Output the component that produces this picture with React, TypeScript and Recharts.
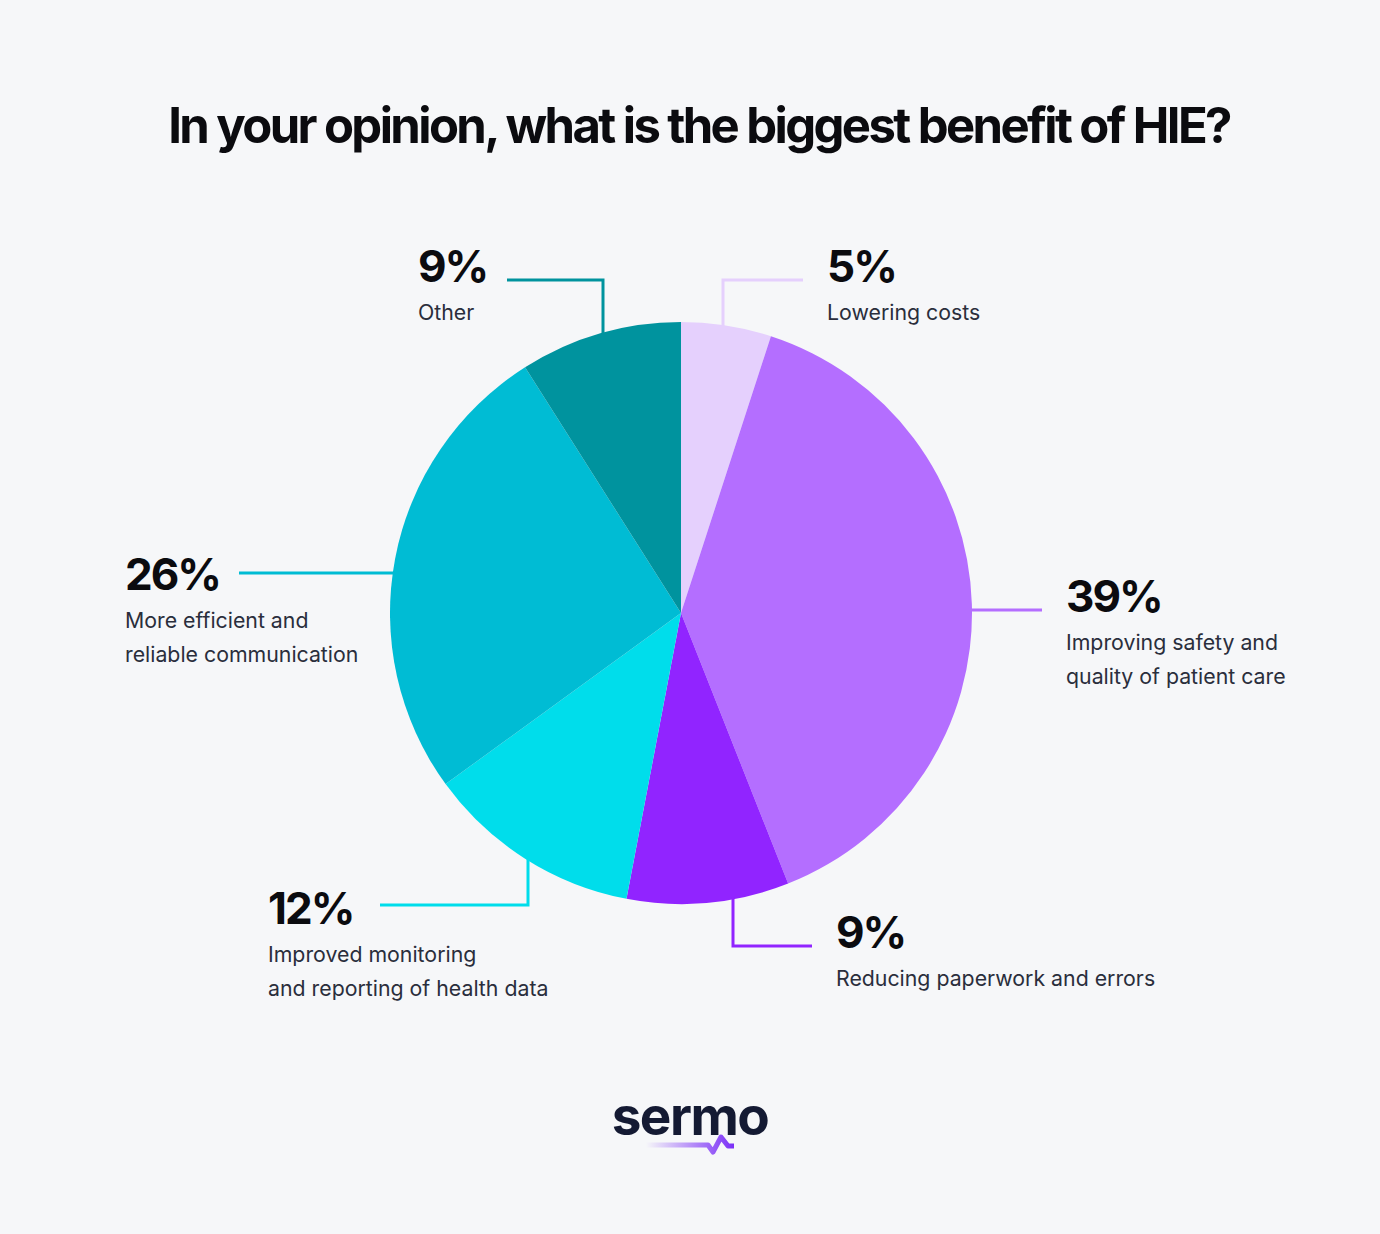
import { PieChart, Pie, Cell } from 'recharts'

const answers = [
  'Lowering costs',
  'Improving safety and quality of patient care',
  'Reducing paperwork and errors',
  'Improved monitoring and reporting of health data',
  'More efficient and reliable communication',
  'Other',
]
const shares = [5, 39, 9, 12, 26, 9]
const captions = [
  ['Lowering costs'],
  ['Improving safety and', 'quality of patient care'],
  ['Reducing paperwork and errors'],
  ['Improved monitoring', 'and reporting of health data'],
  ['More efficient and', 'reliable communication'],
  ['Other'],
]
const colors = ['#E5D0FD', '#B46EFF', '#9124FF', '#00DDEB', '#00BCD4', '#00939E']

const data = answers.map((name, i) => ({ name, value: shares[i] }))

// leader + text placement, relative to the pie centre
// v = vertical leg from the rim, then a horizontal leg; h = straight horizontal leg
const LAYOUT = [
  { kind: 'v', d: 42, dir: -1, elbow: -333, end: 122, tx: 146, ty: -331 },
  { kind: 'h', d: -3, dir: 1, end: 361, tx: 385, ty: -1 },
  { kind: 'v', d: 52, dir: 1, elbow: 333, end: 131, tx: 155, ty: 335 },
  { kind: 'v', d: -153, dir: 1, elbow: 292, end: -301, tx: -413, ty: 311 },
  { kind: 'h', d: -40, dir: -1, end: -442, tx: -556, ty: -23 },
  { kind: 'v', d: -78, dir: -1, elbow: -333, end: -174, tx: -263, ty: -331 },
]

const FONT = 'Inter, "Noto Sans", sans-serif'

function renderLabel(props: any) {
  const { cx, cy, outerRadius: r, index } = props
  const L: any = LAYOUT[index]
  const color = colors[index]
  let pts: number[][]
  if (L.kind === 'v') {
    const ay = cy + L.dir * (Math.sqrt(r * r - L.d * L.d) - 2)
    pts = [[cx + L.d, ay], [cx + L.d, cy + L.elbow], [cx + L.end, cy + L.elbow]]
  } else {
    const ax = cx + L.dir * (Math.sqrt(r * r - L.d * L.d) - 2)
    pts = [[ax, cy + L.d], [cx + L.end, cy + L.d]]
  }
  const tx = cx + L.tx
  const ty = cy + L.ty
  return (
    <g key={`lbl-${index}`}>
      <polyline points={pts.map(p => p.join(',')).join(' ')} fill="none" stroke={color} strokeWidth={3} />
      <text x={tx} y={ty} fontFamily={FONT} fontSize={44} fontWeight={700} fill="#0B0B0F" letterSpacing={-2}>
        {shares[index]}%
      </text>
      {captions[index].map((line, j) => (
        <text key={j} x={tx} y={ty + 38 + j * 34} fontFamily={FONT} fontSize={21.3} fill="#2A2E3C">
          {line}
        </text>
      ))}
    </g>
  )
}

export default function App() {
  return (
    <div style={{ position: 'absolute', left: 0, top: 0, width: 1380, height: 1234, background: '#F6F7F9' }}>
      <PieChart width={1380} height={1234} margin={{ top: 0, right: 0, bottom: 0, left: 0 }}>
        <Pie
          data={data}
          dataKey="value"
          cx={681}
          cy={613}
          outerRadius={291}
          startAngle={90}
          endAngle={-270}
          stroke="none"
          label={renderLabel}
          labelLine={false}
          isAnimationActive={false}
        >
          {data.map((d, i) => (
            <Cell key={d.name} fill={colors[i]} />
          ))}
        </Pie>
      </PieChart>
      <svg width={1380} height={1234} style={{ position: 'absolute', left: 0, top: 0, pointerEvents: 'none' }}>
        <defs>
          <linearGradient id="swoosh" x1="0" y1="0" x2="1" y2="0">
            <stop offset="0%" stopColor="#7B2FF7" stopOpacity={0} />
            <stop offset="100%" stopColor="#7B2FF7" stopOpacity={1} />
          </linearGradient>
        </defs>
        <text x={699} y={143} textAnchor="middle" fontFamily={FONT} fontSize={49} fontWeight={700} fill="#0B0B0F" letterSpacing={-2.6}>
          In your opinion, what is the biggest benefit of HIE?
        </text>
        <text x={690} y={1135} textAnchor="middle" fontFamily={FONT} fontSize={53} fontWeight={700} fill="#141A33" letterSpacing={-1.5}>
          sermo
        </text>
        <path d="M646 1145 L708 1145 L713 1152 L721 1137 L728 1146 L734 1146" fill="none" stroke="url(#swoosh)" strokeWidth={5} strokeLinejoin="round" />
      </svg>
    </div>
  )
}
